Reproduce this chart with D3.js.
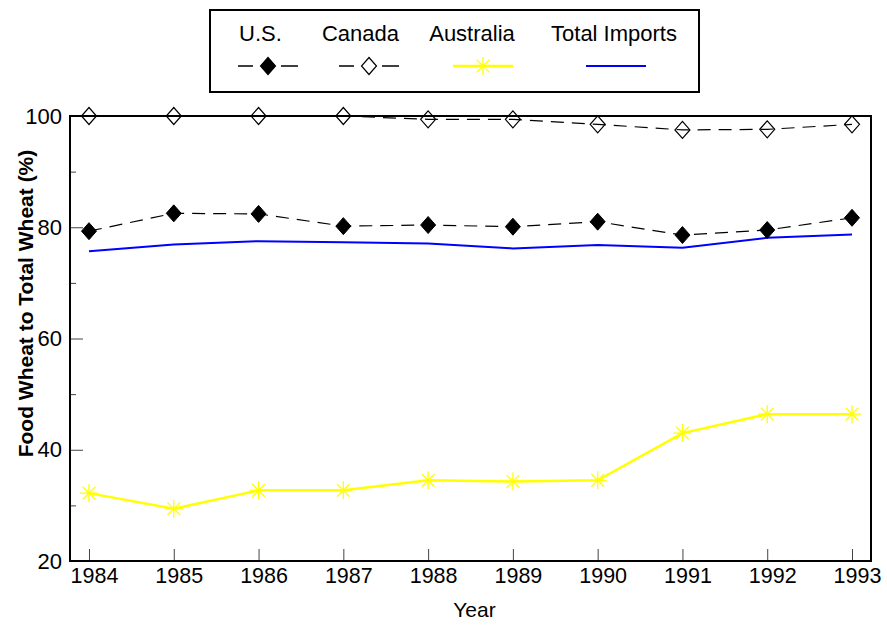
<!DOCTYPE html>
<html>
<head>
<meta charset="utf-8">
<script src="https://cdn.jsdelivr.net/npm/d3@7"></script>
<style>
body { margin: 0; background: #fff; }
text { font-family: "Liberation Sans", Arial, sans-serif; }
</style>
</head>
<body>
<svg id="chart" width="887" height="626"></svg>
<script>
var years = [1984, 1985, 1986, 1987, 1988, 1989, 1990, 1991, 1992, 1993];
var usValues = [79.3, 82.5, 82.4, 80.2, 80.4, 80.1, 81.0, 78.6, 79.5, 81.7];
var canadaValues = [100, 100, 100, 100, 99.4, 99.4, 98.5, 97.5, 97.6, 98.5];
var australiaValues = [32.2, 29.4, 32.7, 32.7, 34.5, 34.3, 34.5, 43.0, 46.4, 46.4];
var totalValues = [75.7, 76.9, 77.5, 77.3, 77.1, 76.2, 76.8, 76.3, 78.1, 78.7];
var yMajorTicks = [20, 40, 60, 80, 100];
var yMinorTicks = [30, 50, 70, 90];
var seriesNames = ["U.S.", "Canada", "Australia", "Total Imports"];

var margin = { top: 116, right: 16, bottom: 65, left: 70 },
    width = 887 - margin.left - margin.right,
    height = 626 - margin.top - margin.bottom;

var svg = d3.select("#chart")
    .append("g")
    .attr("transform", "translate(" + margin.left + "," + margin.top + ")");

var xScale = d3.scaleLinear().domain([1983.776, 1993.224]).range([0, width]);
var yScale = d3.scaleLinear().domain([20, 100]).range([height, 0]);

// x axis, ticks pointing inward
var xAxis = svg.append("g")
    .attr("transform", "translate(0," + height + ")")
    .call(d3.axisBottom(xScale).tickValues(years).tickFormat(d3.format("d")).tickSize(-12).tickPadding(7));
xAxis.select(".domain").remove();
xAxis.selectAll("text").style("font-size", "21.5px").attr("fill", "#000").attr("dx", 5);
xAxis.selectAll("line").attr("stroke", "#444");

// y axis, major + minor ticks pointing inward
var yAxis = svg.append("g")
    .call(d3.axisLeft(yScale).tickValues(yMajorTicks).tickSize(-13).tickPadding(8));
yAxis.select(".domain").remove();
yAxis.selectAll("text").style("font-size", "22px").attr("fill", "#000");
yAxis.selectAll("line").attr("stroke", "#444");

var yMinor = svg.append("g")
    .call(d3.axisLeft(yScale).tickValues(yMinorTicks).tickSize(-6).tickFormat(""));
yMinor.select(".domain").remove();
yMinor.selectAll("line").attr("stroke", "#444");

// frame
svg.append("rect")
    .attr("x", 0).attr("y", 0)
    .attr("width", width).attr("height", height)
    .attr("fill", "none")
    .attr("stroke", "#000")
    .attr("stroke-width", 2);

// axis labels
svg.append("text")
    .attr("x", 474.5 - margin.left)
    .attr("y", 617 - margin.top)
    .attr("text-anchor", "middle")
    .style("font-size", "21px")
    .text("Year");

svg.append("text")
    .attr("transform", "rotate(-90)")
    .attr("x", -(303.5 - margin.top))
    .attr("y", -37)
    .attr("text-anchor", "middle")
    .style("font-size", "21px")
    .style("font-weight", "bold")
    .text("Food Wheat to Total Wheat (%)");

var line = d3.line()
    .x(d => xScale(d[0]))
    .y(d => yScale(d[1]));

function pairs(values) {
    return years.map((y, i) => [y, values[i]]);
}

var diamond = "M0,-8.5L7.5,0L0,8.5L-7.5,0Z";
function asteriskPath(r) {
    var p = "";
    for (var i = 0; i < 4; i++) {
        var a = i * Math.PI / 4;
        var dx = r * Math.sin(a), dy = r * Math.cos(a);
        p += "M" + (-dx) + "," + (-dy) + "L" + dx + "," + dy;
    }
    return p;
}

// Total imports
svg.append("path")
    .datum(pairs(totalValues))
    .attr("d", line)
    .attr("fill", "none")
    .attr("stroke", "#0000ff")
    .attr("stroke-width", 2);

// Australia
svg.append("path")
    .datum(pairs(australiaValues))
    .attr("d", line)
    .attr("fill", "none")
    .attr("stroke", "#ffff00")
    .attr("stroke-width", 2.5);
svg.selectAll(".aus-mark")
    .data(pairs(australiaValues))
    .enter().append("path")
    .attr("class", "aus-mark")
    .attr("transform", d => "translate(" + xScale(d[0]) + "," + yScale(d[1]) + ")")
    .attr("d", asteriskPath(9))
    .attr("stroke", "#ffff00")
    .attr("stroke-width", 1.3);

// Canada
svg.append("path")
    .datum(pairs(canadaValues))
    .attr("d", line)
    .attr("fill", "none")
    .attr("stroke", "#000")
    .attr("stroke-width", 1.2)
    .attr("stroke-dasharray", "13,8");
svg.selectAll(".can-mark")
    .data(pairs(canadaValues))
    .enter().append("path")
    .attr("class", "can-mark")
    .attr("transform", d => "translate(" + xScale(d[0]) + "," + yScale(d[1]) + ")")
    .attr("d", diamond)
    .attr("fill", "none")
    .attr("stroke", "#000")
    .attr("stroke-width", 1.2);

// U.S.
svg.append("path")
    .datum(pairs(usValues))
    .attr("d", line)
    .attr("fill", "none")
    .attr("stroke", "#000")
    .attr("stroke-width", 1.2)
    .attr("stroke-dasharray", "13,8");
svg.selectAll(".us-mark")
    .data(pairs(usValues))
    .enter().append("path")
    .attr("class", "us-mark")
    .attr("transform", d => "translate(" + xScale(d[0]) + "," + yScale(d[1]) + ")")
    .attr("d", diamond)
    .attr("fill", "#000")
    .attr("stroke", "#000");

// legend
var legend = d3.select("#chart").append("g");
legend.append("rect")
    .attr("x", 210).attr("y", 10)
    .attr("width", 489).attr("height", 82)
    .attr("fill", "#fff")
    .attr("stroke", "#000")
    .attr("stroke-width", 2);

var legendTextX = [260.5, 360.5, 472, 614];
var legendSymX = [268, 369, 483, 616];
legendTextX.forEach(function(cx, i) {
    legend.append("text")
        .attr("x", cx)
        .attr("y", 41)
        .attr("text-anchor", "middle")
        .style("font-size", "22px")
        .text(seriesNames[i]);
});

// U.S. & Canada legend: dash - marker - dash
[0, 1].forEach(function(i) {
    var cx = legendSymX[i];
    legend.append("line").attr("x1", cx - 30).attr("x2", cx - 15).attr("y1", 66).attr("y2", 66)
        .attr("stroke", "#000").attr("stroke-width", 1.5);
    legend.append("line").attr("x1", cx + 13).attr("x2", cx + 30).attr("y1", 66).attr("y2", 66)
        .attr("stroke", "#000").attr("stroke-width", 1.5);
    legend.append("path")
        .attr("transform", "translate(" + cx + ",66)")
        .attr("d", diamond)
        .attr("fill", i === 0 ? "#000" : "none")
        .attr("stroke", "#000")
        .attr("stroke-width", 1.2);
});
legend.append("line").attr("x1", 453).attr("x2", 513).attr("y1", 66).attr("y2", 66)
    .attr("stroke", "#ffff00").attr("stroke-width", 2.5);
legend.append("path")
    .attr("transform", "translate(483,66)")
    .attr("d", asteriskPath(9))
    .attr("stroke", "#ffff00")
    .attr("stroke-width", 1.3);
legend.append("line").attr("x1", 586).attr("x2", 646).attr("y1", 66).attr("y2", 66)
    .attr("stroke", "#0000ff").attr("stroke-width", 2);
</script>
</body>
</html>
